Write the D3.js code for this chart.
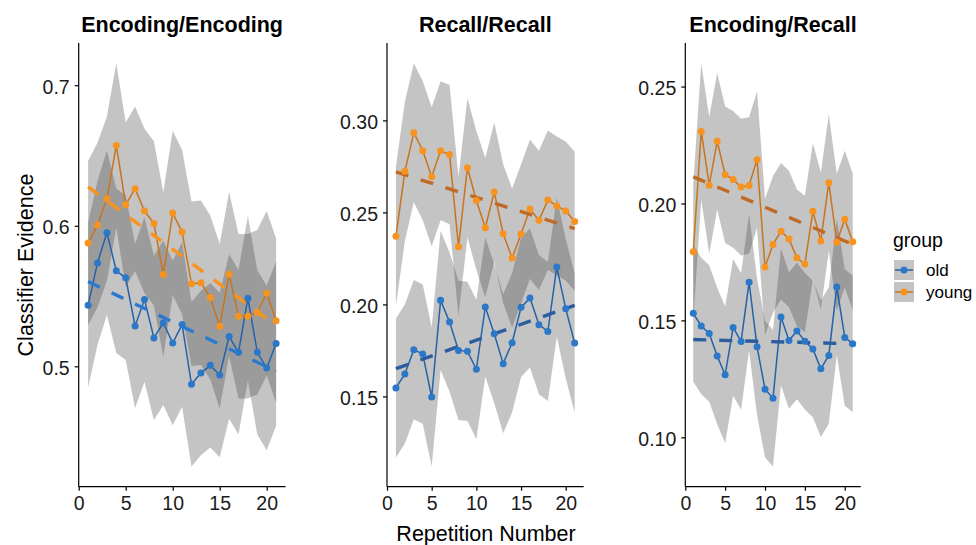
<!DOCTYPE html>
<html><head><meta charset="utf-8">
<script src="https://cdn.jsdelivr.net/npm/d3@7/dist/d3.min.js"></script>
<style>body{margin:0;background:#fff}svg{display:block}text{font-family:"Liberation Sans",Arial,Helvetica,sans-serif}</style>
</head><body><svg id="chart" width="976" height="545"></svg>
<script>
// ---------------- data ----------------
const repetitions = [1,2,3,4,5,6,7,8,9,10,11,12,13,14,15,16,17,18,19,20,21];
const panelTitles = ["Encoding/Encoding","Recall/Recall","Encoding/Recall"];
const groups = ["old","young"];

const oldEncEnc   = [0.5435,0.5736,0.5950,0.5680,0.5630,0.5287,0.5475,0.5202,0.5309,0.5166,0.5297,0.4872,0.4952,0.5007,0.4938,0.5212,0.5100,0.5485,0.5100,0.4988,0.5162];
const youngEncEnc = [0.5877,0.6005,0.6192,0.6572,0.6150,0.6264,0.6105,0.6017,0.5653,0.6091,0.5955,0.5587,0.5594,0.5489,0.5285,0.5656,0.5356,0.5356,0.5385,0.5520,0.5325];
const oldRecRec   = [0.1546,0.1622,0.1754,0.1730,0.1497,0.2022,0.1904,0.1750,0.1745,0.1647,0.1986,0.1841,0.1678,0.1792,0.1984,0.2035,0.1890,0.1853,0.2203,0.1977,0.1790];
const youngRecRec = [0.2370,0.2723,0.2933,0.2835,0.2694,0.2835,0.2814,0.2314,0.2743,0.2565,0.2417,0.2611,0.2384,0.2252,0.2383,0.2518,0.2457,0.2567,0.2535,0.2508,0.2451];
const oldEncRec   = [0.1530,0.1476,0.1444,0.1348,0.1267,0.1470,0.1410,0.1663,0.1387,0.1206,0.1167,0.1515,0.1414,0.1455,0.1411,0.1378,0.1293,0.1350,0.1643,0.1427,0.1400];
const youngEncRec = [0.1793,0.2308,0.2078,0.2266,0.2123,0.2103,0.2070,0.2077,0.2187,0.1728,0.1825,0.1881,0.1848,0.1768,0.1741,0.1967,0.1840,0.2089,0.1834,0.1933,0.1836];

// half-width of the grey confidence band, per panel
const ciHalfWidth = [0.0585, 0.0378, 0.0292];
// dashed linear trend: [value at first repetition, value at last repetition]
const trendOld   = [[0.5603,0.4965],[0.1651,0.1995],[0.1418,0.1400]];
const trendYoung = [[0.6276,0.5290],[0.2720,0.2412],[0.2114,0.1825]];

const xTicks = [0,5,10,15,20];
const yTicks = [[0.5,0.6,0.7],[0.15,0.20,0.25,0.30],[0.10,0.15,0.20,0.25]];
const yTickFormats = [".1f",".2f",".2f"];

// ---------------- layout / style ----------------
const oldSeries = [oldEncEnc, oldRecRec, oldEncRec];
const youngSeries = [youngEncEnc, youngRecRec, youngEncRec];
const panelX = [[78.7,285.5],[387,583.6],[685.3,860.7]];
const plotTop = 43, plotBottom = 486.7;
const pointColor = {old:"#2b78c8", young:"#f7931e"};
const lineColor  = {old:"#2562a8", young:"#c8741f"};
const trendColor = [{old:"#2c7ad0", young:"#f7941d"},{old:"#2a5c9e", young:"#c06a26"},{old:"#2a5c9e", young:"#c06a26"}];
const bandFill = "#3f4242", bandOpacity = 0.31;

const svg = d3.select("#chart");

panelTitles.forEach((title, p) => {
  const hw = ciHalfWidth[p];
  const seriesByGroup = {old: oldSeries[p], young: youngSeries[p]};
  const allVals = [];
  groups.forEach(g => seriesByGroup[g].forEach(v => { allVals.push(v - hw, v + hw); }));
  const [mn, mx] = d3.extent(allVals);
  const pad = (mx - mn) * 0.05;
  const x = d3.scaleLinear().domain([0, 22]).range(panelX[p]);
  const y = d3.scaleLinear().domain([mn - pad, mx + pad]).range([plotBottom, plotTop]);

  const g = svg.append("g");

  // bands
  groups.forEach(grp => {
    const data = repetitions.map((r, i) => ({r, v: seriesByGroup[grp][i]}));
    g.append("path").datum(data)
      .attr("d", d3.area().x(d => x(d.r)).y0(d => y(d.v - hw)).y1(d => y(d.v + hw)))
      .attr("fill", bandFill).attr("fill-opacity", bandOpacity);
  });

  // lines
  groups.forEach(grp => {
    const data = repetitions.map((r, i) => ({r, v: seriesByGroup[grp][i]}));
    g.append("path").datum(data)
      .attr("d", d3.line().x(d => x(d.r)).y(d => y(d.v)))
      .attr("fill", "none").attr("stroke", lineColor[grp]).attr("stroke-width", 1.5);
  });

  // trend lines
  const trends = {old: trendOld[p], young: trendYoung[p]};
  groups.forEach(grp => {
    const r0 = repetitions[0], r1 = repetitions[repetitions.length - 1];
    g.append("line")
      .attr("x1", x(r0)).attr("y1", y(trends[grp][0]))
      .attr("x2", x(r1)).attr("y2", y(trends[grp][1]))
      .attr("stroke", trendColor[p][grp]).attr("stroke-width", 3.4)
      .attr("stroke-dasharray", "13,13");
  });

  // points
  groups.forEach(grp => {
    g.selectAll(null).data(seriesByGroup[grp]).join("circle")
      .attr("cx", (d, i) => x(repetitions[i])).attr("cy", d => y(d))
      .attr("r", 3.5).attr("fill", pointColor[grp]);
  });

  // axes
  const xAxis = g.append("g").attr("transform", `translate(0,${plotBottom})`)
    .call(d3.axisBottom(x).tickValues(xTicks).tickSize(4).tickPadding(5).tickFormat(d3.format("d")));
  const yAxis = g.append("g").attr("transform", `translate(${panelX[p][0]},0)`)
    .call(d3.axisLeft(y).tickValues(yTicks[p]).tickSize(4).tickPadding(5).tickFormat(d3.format(yTickFormats[p])));
  [xAxis, yAxis].forEach(a => {
    a.select(".domain").attr("stroke", "#000").attr("stroke-width", 1.2);
    a.selectAll(".tick line").attr("stroke", "#000").attr("stroke-width", 1.2);
    a.selectAll(".tick text").attr("fill", "#1a1a1a").style("font-size", "19.5px");
  });
  yAxis.selectAll(".tick text").attr("dy", "0.42em");
  xAxis.select(".domain").attr("d", `M${panelX[p][0]},0H${panelX[p][1]}`);
  yAxis.select(".domain").attr("d", `M0,${plotBottom}V${plotTop}`);

  // panel title
  svg.append("text").attr("x", (panelX[p][0] + panelX[p][1]) / 2).attr("y", 32)
    .attr("text-anchor", "middle").style("font-size", "21.5px").style("font-weight", "bold")
    .attr("fill", "#000").text(title);
});

// axis titles
svg.append("text").attr("transform", "translate(33,265) rotate(-90)")
  .attr("text-anchor", "middle").style("font-size", "21.5px").attr("fill", "#000")
  .text("Classifier Evidence");
svg.append("text").attr("x", 486).attr("y", 541)
  .attr("text-anchor", "middle").style("font-size", "21.5px").attr("fill", "#000")
  .text("Repetition Number");

// legend
const leg = svg.append("g");
leg.append("text").attr("x", 893).attr("y", 247).style("font-size", "19.5px").attr("fill", "#000").text("group");
groups.forEach((grp, i) => {
  const ky = 260 + i * 22;
  leg.append("rect").attr("x", 894).attr("y", ky).attr("width", 20).attr("height", 20)
    .attr("fill", bandFill).attr("fill-opacity", bandOpacity);
  leg.append("line").attr("x1", 895).attr("x2", 913).attr("y1", ky + 10).attr("y2", ky + 10)
    .attr("stroke", lineColor[grp]).attr("stroke-width", 1.5);
  leg.append("circle").attr("cx", 904).attr("cy", ky + 10).attr("r", 3.5).attr("fill", pointColor[grp]);
  leg.append("text").attr("x", 926).attr("y", ky + 16).style("font-size", "17px").attr("fill", "#000").text(grp);
});
</script></body></html>
